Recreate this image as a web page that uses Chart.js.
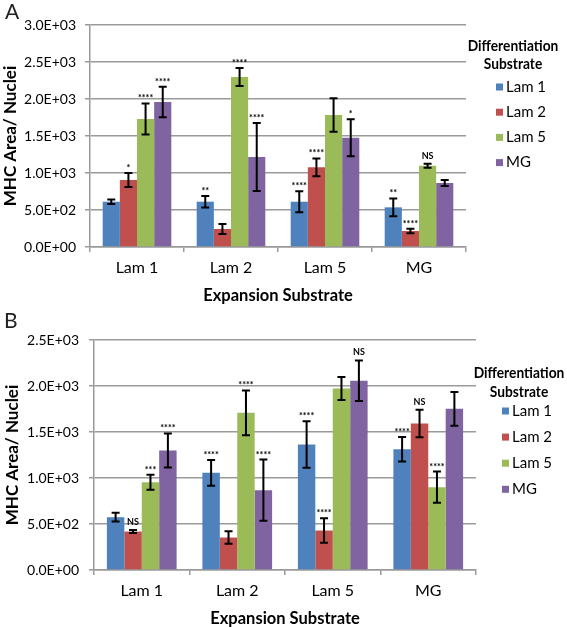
<!DOCTYPE html>
<html>
<head>
<meta charset="utf-8">
<script src="https://cdn.jsdelivr.net/npm/chart.js@4.4.7/dist/chart.umd.min.js"></script>
<style>
  html, body { margin: 0; padding: 0; background: #fff; }
  body { width: 567px; height: 627px; position: relative; overflow: hidden; font-family: Lato, sans-serif; }
  .panel { position: absolute; left: 0; width: 567px; }
  .tag { position: absolute; font-size: 21px; color: #222; }
</style>
</head>
<body>
<div class="panel" style="top:0;height:310px"><canvas id="chartA" width="567" height="310"></canvas></div>
<div class="panel" style="top:310px;height:317px"><canvas id="chartB" width="567" height="317"></canvas></div>
<div class="tag" style="left:5px;top:-2px">A</div>
<div class="tag" style="left:4px;top:307px">B</div>
<script>
  // categories and series
  var categories = ["Lam 1", "Lam 2", "Lam 5", "MG"];
  var seriesNames = ["Lam 1", "Lam 2", "Lam 5", "MG"];
  var seriesColors = ["#4f81bd", "#c0504d", "#9bbb59", "#8064a2"];

  // panel A values (MHC area / nuclei)
  var aLam1 = [612, 612, 612, 536];
  var aLam2 = [905, 243, 1077, 216];
  var aLam5 = [1730, 2297, 1784, 1099];
  var aMG = [1960, 1216, 1477, 865];
  var aErrLam1 = [30, 78, 142, 120];
  var aErrLam2 = [95, 68, 120, 30];
  var aErrLam5 = [210, 122, 225, 27];
  var aErrMG = [205, 460, 250, 40];
  var aSigLam1 = ["", "**", "****", "**"];
  var aSigLam2 = ["*", "", "****", "****"];
  var aSigLam5 = ["****", "****", "", "NS"];
  var aSigMG = ["****", "****", "*", ""];
  var aTicks = [0, 500, 1000, 1500, 2000, 2500, 3000];

  // panel B values
  var bLam1 = [574, 1057, 1364, 1313];
  var bLam2 = [418, 353, 429, 1592];
  var bLam5 = [954, 1709, 1973, 900];
  var bMG = [1299, 868, 2057, 1752];
  var bErrLam1 = [47, 140, 253, 133];
  var bErrLam2 = [16, 69, 134, 150];
  var bErrLam5 = [82, 243, 125, 170];
  var bErrMG = [185, 332, 221, 183];
  var bSigLam1 = ["", "****", "****", "****"];
  var bSigLam2 = ["NS", "", "****", "NS"];
  var bSigLam5 = ["***", "****", "", "****"];
  var bSigMG = ["****", "****", "NS", ""];
  var bTicks = [0, 500, 1000, 1500, 2000, 2500];

  var FONT = "Lato, 'Open Sans', sans-serif";
  var GRID = "#9a9a9a";

  function sci(v) {
    if (v === 0) return "0.0E+00";
    var e = Math.floor(Math.log10(Math.abs(v)));
    var m = v / Math.pow(10, e);
    return m.toFixed(1) + "E+" + String(e).padStart(2, "0");
  }

  // error bars and significance marks
  var errorBarPlugin = {
    id: "errorBars",
    afterDatasetsDraw: function (chart) {
      var ctx = chart.ctx;
      var y = chart.scales.y;
      ctx.save();
      chart.data.datasets.forEach(function (ds, i) {
        var meta = chart.getDatasetMeta(i);
        meta.data.forEach(function (bar, j) {
          var v = ds.data[j], e = ds.errors[j];
          var top = y.getPixelForValue(v + e);
          var bot = y.getPixelForValue(v - e);
          ctx.strokeStyle = "#000";
          ctx.lineWidth = 2;
          ctx.beginPath();
          ctx.moveTo(bar.x, top); ctx.lineTo(bar.x, bot);
          ctx.moveTo(bar.x - 4, top); ctx.lineTo(bar.x + 4, top);
          ctx.moveTo(bar.x - 4, bot); ctx.lineTo(bar.x + 4, bot);
          ctx.stroke();
          var s = ds.sig[j];
          if (s) {
            ctx.fillStyle = "#000";
            ctx.font = "bold 9px " + FONT;
            ctx.textAlign = "center";
            ctx.textBaseline = "alphabetic";
            ctx.fillText(s, bar.x, top - (s === "NS" ? 5 : 2));
          }
        });
      });
      ctx.restore();
    }
  };

  // legend drawn on the right with a two-line title
  var sideLegendPlugin = {
    id: "sideLegend",
    afterDraw: function (chart, args, opts) {
      var ctx = chart.ctx;
      ctx.save();
      ctx.fillStyle = "#000";
      ctx.textAlign = "center";
      ctx.textBaseline = "middle";
      // narrow bold title, squeezed a little to fit like the original
      ctx.save();
      ctx.translate(opts.titleX, 0);
      ctx.scale(0.86, 1);
      ctx.font = "bold 16px " + FONT;
      ctx.fillText("Differentiation", 0, opts.titleY);
      ctx.fillText("Substrate", 0, opts.titleY + opts.titleGap);
      ctx.restore();
      ctx.font = "15px " + FONT;
      ctx.textAlign = "left";
      chart.data.datasets.forEach(function (ds, i) {
        var yy = opts.itemY + i * opts.itemGap;
        ctx.fillStyle = ds.backgroundColor;
        ctx.fillRect(opts.boxX, yy - 3.5, 7, 7);
        ctx.fillStyle = "#000";
        ctx.fillText(ds.label, opts.boxX + 10, yy);
      });
      ctx.restore();
    }
  };

  function makeDatasets(vals, errs, sigs) {
    return seriesNames.map(function (name, i) {
      return {
        label: name,
        data: vals[i],
        errors: errs[i],
        sig: sigs[i],
        backgroundColor: seriesColors[i],
        borderWidth: 0,
        categoryPercentage: 0.73,
        barPercentage: 1.0
      };
    });
  }

  function makeChart(id, datasets, ticks, box) {
    return new Chart(document.getElementById(id), {
      type: "bar",
      data: { labels: categories, datasets: datasets },
      options: {
        responsive: false,
        animation: false,
        devicePixelRatio: 1,
        layout: { padding: { top: box.top, right: box.right, left: 0, bottom: 0 } },
        plugins: {
          legend: { display: false },
          tooltip: { enabled: false },
          sideLegend: box.legend
        },
        scales: {
          x: {
            grid: { offset: true, drawOnChartArea: false, color: GRID, lineWidth: 1.5, tickLength: 5 },
            border: { color: GRID, width: 1.5 },
            ticks: { color: "#000", font: { family: FONT, size: 16 }, padding: box.xPad },
            title: {
              display: true, text: "Expansion Substrate", color: "#000",
              font: { family: FONT, size: 16.5, weight: "bold", lineHeight: 1 },
              padding: { top: 0, bottom: box.xTitlePad }
            },
            afterFit: function (s) { s.height = box.xHeight; }
          },
          y: {
            min: 0,
            max: ticks[ticks.length - 1],
            afterBuildTicks: function (s) { s.ticks = ticks.map(function (v) { return { value: v }; }); },
            grid: { color: GRID, lineWidth: 1.5, tickLength: 5 },
            border: { color: GRID, width: 1.5 },
            ticks: {
              color: "#000", font: { family: FONT, size: 14 }, padding: box.yPad,
              callback: function (v) { return sci(v); }
            },
            title: {
              display: true, text: "MHC Area/ Nuclei", color: "#000",
              font: { family: FONT, size: 17, weight: "bold", lineHeight: 1 },
              padding: { top: box.yTitlePad, bottom: 0 }
            },
            afterFit: function (s) { s.width = box.yWidth; }
          }
        }
      },
      plugins: [errorBarPlugin, sideLegendPlugin]
    });
  }

  makeChart("chartA",
    makeDatasets([aLam1, aLam2, aLam5, aMG], [aErrLam1, aErrLam2, aErrLam5, aErrMG], [aSigLam1, aSigLam2, aSigLam5, aSigMG]),
    aTicks,
    { top: 25, right: 101, yWidth: 90, xHeight: 63, xPad: 6, xTitlePad: 6, yPad: 9, yTitlePad: 2,
      legend: { titleX: 513, titleY: 46, titleGap: 18, itemY: 87, itemGap: 25.2, boxX: 496 } });

  makeChart("chartB",
    makeDatasets([bLam1, bLam2, bLam5, bMG], [bErrLam1, bErrLam2, bErrLam5, bErrMG], [bSigLam1, bSigLam2, bSigLam5, bSigMG]),
    bTicks,
    { top: 30, right: 91, yWidth: 94, xHeight: 57, xPad: 6, xTitlePad: 0, yPad: 10, yTitlePad: 4,
      legend: { titleX: 519, titleY: 63, titleGap: 18.5, itemY: 101, itemGap: 26.1, boxX: 502 } });
</script>
</body>
</html>
